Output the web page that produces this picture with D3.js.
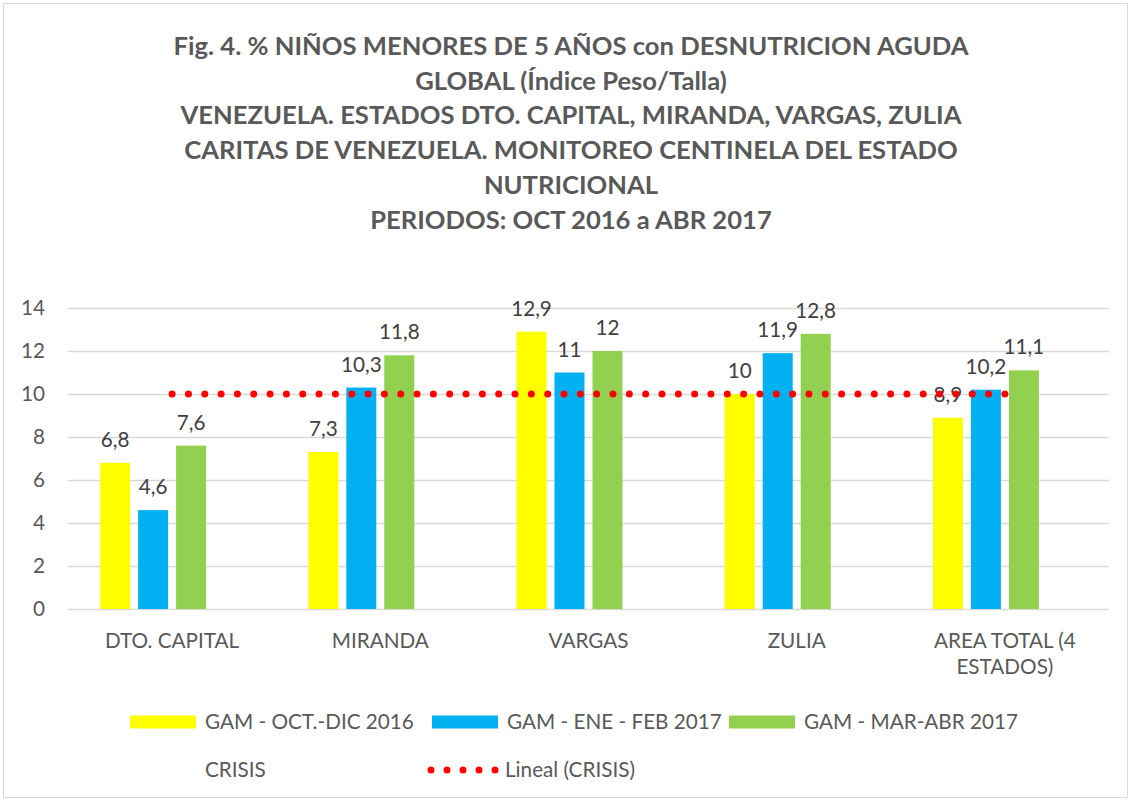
<!DOCTYPE html>
<html>
<head>
<meta charset="utf-8">
<script src="https://cdn.jsdelivr.net/npm/d3@7"></script>
<style>
  body { margin: 0; background: #fff; }
  svg { display: block; }
</style>
</head>
<body>
<div id="chart"></div>
<script>
// data
const categories = ["DTO. CAPITAL", "MIRANDA", "VARGAS", "ZULIA", "AREA TOTAL (4 ESTADOS)"];
const seriesNames = ["GAM - OCT.-DIC 2016", "GAM - ENE - FEB 2017", "GAM - MAR-ABR 2017", "CRISIS"];
const octDic = [6.8, 7.3, 12.9, 10, 8.9];
const eneFeb = [4.6, 10.3, 11, 11.9, 10.2];
const marAbr = [7.6, 11.8, 12, 12.8, 11.1];
const crisis = [10, 10, 10, 10, 10];
const yTicks = [0, 2, 4, 6, 8, 10, 12, 14];
const titleLines = [
  "Fig. 4. % NIÑOS MENORES DE 5 AÑOS con DESNUTRICION AGUDA",
  "GLOBAL (Índice Peso/Talla)",
  "VENEZUELA. ESTADOS DTO. CAPITAL, MIRANDA, VARGAS, ZULIA",
  "CARITAS DE VENEZUELA. MONITOREO CENTINELA DEL ESTADO",
  "NUTRICIONAL",
  "PERIODOS: OCT 2016 a ABR 2017"
];

const colors = ["#ffff00", "#00b0f0", "#92d050", "none"];
const allSeries = [octDic, eneFeb, marAbr, crisis];

const W = 1130, H = 800;
const font = "Lato, 'Open Sans', sans-serif";

let svg = d3.select("#chart").append("svg")
  .attr("width", W)
  .attr("height", H);

// outer border
svg.append("rect")
  .attr("x", 3.5).attr("y", 3.5)
  .attr("width", W - 6).attr("height", H - 6)
  .attr("fill", "white")
  .attr("stroke", "#d9d9d9");

// helper: pick a font size so a sample text is a given width
function fitSize(text, target, weight) {
  let t = svg.append("text")
    .attr("font-family", font)
    .attr("font-weight", weight)
    .attr("font-size", 100)
    .text(text);
  let w = t.node().getComputedTextLength();
  t.remove();
  return 100 * target / w;
}

const titleSize = fitSize(titleLines[0], 795, "bold");
const bodySize = fitSize(seriesNames[0], 209, "normal");

// title
svg.append("g").selectAll("text")
  .data(titleLines).enter()
  .append("text")
    .attr("x", 571)
    .attr("y", (d, i) => 55 + i * 34.7)
    .attr("text-anchor", "middle")
    .attr("font-family", font)
    .attr("font-weight", "bold")
    .attr("font-size", titleSize)
    .attr("fill", "#595959")
    .text(d => d);

// scales
const plotLeft = 68, plotRight = 1109, plotTop = 308, plotBottom = 609;

let x0 = d3.scaleBand()
  .domain(categories)
  .range([plotLeft, plotRight])
  .padding(0);

// 4 bars of 30px with 8px gaps, centred in each category
const clusterW = 144;
let x1 = d3.scaleBand()
  .domain(d3.range(seriesNames.length))
  .range([(x0.bandwidth() - clusterW) / 2, (x0.bandwidth() + clusterW) / 2])
  .paddingInner(8 / 38)
  .paddingOuter(0);

let y = d3.scaleLinear()
  .domain([0, 14])
  .range([plotBottom, plotTop]);

// gridlines
svg.append("g")
  .attr("transform", "translate(" + plotLeft + ",0)")
  .call(d3.axisLeft(y).tickValues(yTicks).tickSize(-(plotRight - plotLeft)).tickFormat(""))
  .call(g => g.select(".domain").remove())
  .call(g => g.selectAll("line").attr("stroke", "#d9d9d9").attr("stroke-width", 1.5));

// y labels
svg.append("g")
  .attr("transform", "translate(" + 45 + ",0)")
  .call(d3.axisLeft(y).tickValues(yTicks).tickSize(0).tickPadding(0))
  .call(g => g.select(".domain").remove())
  .call(g => g.selectAll("text")
    .attr("font-family", font)
    .attr("font-size", bodySize)
    .attr("fill", "#595959"));

// bars
let groups = svg.selectAll(".datagroup").data(categories).enter()
  .append("g")
    .attr("class", "datagroup")
    .attr("transform", d => "translate(" + x0(d) + ",0)");

for (let s = 0; s < 3; s++) {
  groups.append("rect")
    .attr("x", x1(s))
    .attr("y", (d, i) => y(allSeries[s][i]))
    .attr("width", x1.bandwidth())
    .attr("height", (d, i) => y(0) - y(allSeries[s][i]))
    .attr("fill", colors[s]);
}

// value labels
const fmt = v => String(v).replace(".", ",");
for (let s = 0; s < 3; s++) {
  groups.append("text")
    .attr("x", x1(s) + x1.bandwidth() / 2)
    .attr("y", (d, i) => y(allSeries[s][i]) - 16)
    .attr("text-anchor", "middle")
    .attr("font-family", font)
    .attr("font-size", bodySize)
    .attr("fill", "#404040")
    .text((d, i) => fmt(allSeries[s][i]));
}

// category labels, wrapped
function wrap(textSel, width) {
  textSel.each(function() {
    let text = d3.select(this);
    let words = text.text().split(/\s+/);
    let xx = text.attr("x");
    text.text(null);
    let line = [];
    let tspan = text.append("tspan").attr("x", xx).attr("dy", 0);
    words.forEach(w => {
      line.push(w);
      tspan.text(line.join(" "));
      if (tspan.node().getComputedTextLength() > width && line.length > 1) {
        line.pop();
        tspan.text(line.join(" "));
        line = [w];
        tspan = text.append("tspan").attr("x", xx).attr("dy", 26).text(w);
      }
    });
  });
}

svg.append("g").selectAll("text")
  .data(categories).enter()
  .append("text")
    .attr("x", d => x0(d) + x0.bandwidth() / 2)
    .attr("y", 648)
    .attr("text-anchor", "middle")
    .attr("font-family", font)
    .attr("font-size", bodySize)
    .attr("fill", "#595959")
    .text(d => d)
    .call(wrap, 150);

// linear trendline for CRISIS (least squares over category index)
const idx = d3.range(crisis.length);
const mx = d3.mean(idx), my = d3.mean(crisis);
const slope = d3.sum(idx, i => (i - mx) * (crisis[i] - my)) / d3.sum(idx, i => (i - mx) * (i - mx));
const intercept = my - slope * mx;
const trend = [0, crisis.length - 1].map(i => [x0(categories[i]) + x0.bandwidth() / 2, y(intercept + slope * i)]);

// spread the dots so one lands on each end
const trendLen = Math.hypot(trend[1][0] - trend[0][0], trend[1][1] - trend[0][1]);
const dotGap = trendLen / Math.round(trendLen / 16.2);

svg.append("path")
  .attr("d", d3.line()(trend))
  .attr("fill", "none")
  .attr("stroke", "#ff0000")
  .attr("stroke-width", 7)
  .attr("stroke-linecap", "round")
  .attr("stroke-dasharray", "0 " + dotGap);

// legend
const legendItems = [
  { label: seriesNames[0], color: colors[0], x: 130, y: 722, type: "box" },
  { label: seriesNames[1], color: colors[1], x: 432, y: 722, type: "box" },
  { label: seriesNames[2], color: colors[2], x: 729, y: 722, type: "box" },
  { label: seriesNames[3], color: "none", x: 130, y: 770, type: "box" },
  { label: "Lineal (CRISIS)", color: "#ff0000", x: 430, y: 770, type: "dots" }
];

let legend = svg.append("g").selectAll("g")
  .data(legendItems).enter()
  .append("g")
    .attr("transform", d => "translate(" + d.x + "," + d.y + ")");

legend.filter(d => d.type == "box").append("rect")
  .attr("x", 0).attr("y", -6.5)
  .attr("width", 66).attr("height", 13)
  .attr("fill", d => d.color);

legend.filter(d => d.type == "dots").append("line")
  .attr("x1", 1).attr("x2", 66)
  .attr("y1", 0).attr("y2", 0)
  .attr("stroke", d => d.color)
  .attr("stroke-width", 7)
  .attr("stroke-linecap", "round")
  .attr("stroke-dasharray", "0 16");

legend.append("text")
  .attr("x", 75)
  .attr("y", 0)
  .attr("dy", "0.35em")
  .attr("font-family", font)
  .attr("font-size", bodySize)
  .attr("fill", "#595959")
  .text(d => d.label);
</script>
</body>
</html>
